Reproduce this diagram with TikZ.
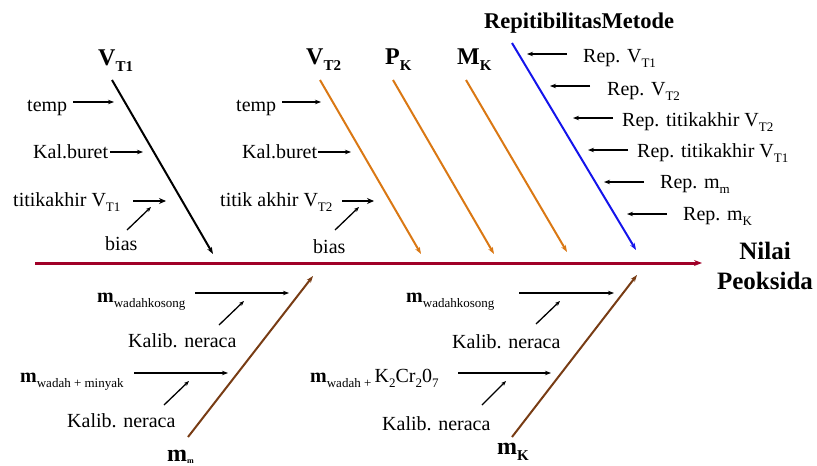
\documentclass[tikz,border=0pt]{standalone}
\usepackage{fontspec}
\setmainfont{Liberation Serif}
\usetikzlibrary{arrows.meta}
\definecolor{spinered}{RGB}{160,0,40}
\definecolor{branchorange}{RGB}{218,120,20}
\definecolor{branchbrown}{RGB}{120,60,20}
\definecolor{branchblue}{RGB}{20,20,235}
\newcommand\lsub[1]{\raisebox{-0.28em}{\fontsize{13}{13}\selectfont #1}}
\newcommand\hsub[1]{\raisebox{-0.25em}{\fontsize{15}{15}\selectfont #1}}
\newcommand\tinysub[1]{\raisebox{-0.1em}{\fontsize{8}{8}\selectfont #1}}
\begin{document}
\begin{tikzpicture}[x=1pt,y=-1pt,
  lbl/.style={anchor=base west, inner sep=0pt, font=\fontsize{20}{22}\selectfont},
  head/.style={anchor=base west, inner sep=0pt, font=\bfseries\fontsize{24}{26}\selectfont},
  bigtip/.style={-{Stealth[length=7pt,width=5pt]}},
  branch/.style={bigtip, line width=2pt},
  cause/.style={-{Stealth[length=6pt,width=4.5pt]}, line width=1.4pt},
  causethick/.style={-{Stealth[length=7pt,width=6pt]}, line width=2.8pt},
  bias/.style={-{Stealth[length=5pt,width=4pt]}, line width=1.3pt}]
\useasboundingbox (0,0) rectangle (817,466);

% ---------- spine ----------
\coordinate (s0) at (35,263);
\coordinate (s1) at (702,263);
\draw[-{Stealth[length=8pt,width=6pt]}, line width=3pt, spinered] (s0) -- (s1);
\node[inner sep=0pt, align=center, font=\bfseries\fontsize{25}{30}\selectfont, anchor=north] (eff) at (765,242) {Nilai\\Peoksida};

% ---------- upper branches ----------
\coordinate (a0) at (112,80);  \coordinate (a1) at (213,254);
\coordinate (b0) at (320,80);  \coordinate (b1) at (421,254);
\coordinate (c0) at (393,80);  \coordinate (c1) at (494,254);
\coordinate (d0) at (466,80);  \coordinate (d1) at (567,252);
\coordinate (e0) at (512,43);  \coordinate (e1) at (636,250);
\draw[branch, black] (a0) -- (a1);
\draw[branch, branchorange] (b0) -- (b1);
\draw[branch, branchorange] (c0) -- (c1);
\draw[branch, branchorange] (d0) -- (d1);
\draw[branch, branchblue] (e0) -- (e1);

\node[head] (hVT1) at (98,65) {V\hsub{T1}};
\node[head] (hVT2) at (306,64) {V\hsub{T2}};
\node[head] (hPK) at (385,64) {P\hsub{K}};
\node[head] (hMK) at (457,64) {M\hsub{K}};
\node[anchor=base west, inner sep=0pt, font=\bfseries\fontsize{22.5}{24}\selectfont] (hRep) at (484,28) {RepitibilitasMetode};

% V_T1 causes
\node[lbl] (t1) at (27,111) {temp};
\coordinate (t1a) at (73,102); \coordinate (t1b) at (114,102);
\draw[cause] (t1a) -- (t1b);
\node[lbl] (k1) at (33,158) {Kal.buret};
\coordinate (k1a) at (110,152); \coordinate (k1b) at (143,152);
\draw[cause] (k1a) -- (k1b);
\node[lbl] (ti1) at (13,206) {titikakhir V\lsub{T1}};
\coordinate (ti1a) at (133,201); \coordinate (ti1b) at (166,201);
\draw[causethick] (ti1a) -- (ti1b);
\node[lbl] (bi1) at (105,250) {bias};
\coordinate (bi1a) at (127,230); \coordinate (bi1b) at (151,207);
\draw[bias] (bi1a) -- (bi1b);

% V_T2 causes
\node[lbl] (t2) at (236,111) {temp};
\coordinate (t2a) at (282,102); \coordinate (t2b) at (321,102);
\draw[cause] (t2a) -- (t2b);
\node[lbl] (k2) at (242,158) {Kal.buret};
\coordinate (k2a) at (318,152); \coordinate (k2b) at (351,152);
\draw[cause] (k2a) -- (k2b);
\node[lbl] (ti2) at (220,206) {titik akhir V\lsub{T2}};
\coordinate (ti2a) at (342,201); \coordinate (ti2b) at (374,201);
\draw[causethick] (ti2a) -- (ti2b);
\node[lbl] (bi2) at (313,253) {bias};
\coordinate (bi2a) at (335,230); \coordinate (bi2b) at (359,207);
\draw[bias] (bi2a) -- (bi2b);

% Repeatability causes
\node[lbl] (r1) at (583,62) {Rep. V\lsub{T1}};
\coordinate (r1a) at (567,54); \coordinate (r1b) at (527,54);
\draw[cause] (r1a) -- (r1b);
\node[lbl] (r2) at (607,95) {Rep. V\lsub{T2}};
\coordinate (r2a) at (590,86); \coordinate (r2b) at (550,86);
\draw[cause] (r2a) -- (r2b);
\node[lbl] (r3) at (622,126) {Rep. titikakhir V\lsub{T2}};
\coordinate (r3a) at (613,118); \coordinate (r3b) at (573,118);
\draw[cause] (r3a) -- (r3b);
\node[lbl] (r4) at (637,157) {Rep. titikakhir V\lsub{T1}};
\coordinate (r4a) at (628,150); \coordinate (r4b) at (588,150);
\draw[cause] (r4a) -- (r4b);
\node[lbl] (r5) at (660,188) {Rep. m\lsub{m}};
\coordinate (r5a) at (644,182); \coordinate (r5b) at (604,182);
\draw[cause] (r5a) -- (r5b);
\node[lbl] (r6) at (683,220) {Rep. m\lsub{K}};
\coordinate (r6a) at (667,214); \coordinate (r6b) at (627,214);
\draw[cause] (r6a) -- (r6b);

% ---------- lower branches ----------
\coordinate (f0) at (188,437); \coordinate (f1) at (313,276);
\coordinate (g0) at (512,437); \coordinate (g1) at (637,275);
\draw[branch, branchbrown] (f0) -- (f1);
\draw[branch, branchbrown] (g0) -- (g1);
\node[head] (hmm) at (167,461) {m\tinysub{m}};
\node[head] (hmK) at (497,454) {m\hsub{K}};

% m_m causes
\node[lbl] (w1) at (97,302) {\textbf{m}\lsub{wadahkosong}};
\coordinate (w1a) at (195,293); \coordinate (w1b) at (289,293);
\draw[cause] (w1a) -- (w1b);
\node[lbl] (n1) at (128,347) {Kalib. neraca};
\coordinate (n1a) at (219,325); \coordinate (n1b) at (244,301);
\draw[bias] (n1a) -- (n1b);
\node[lbl] (w2) at (20,382) {\textbf{m}\lsub{wadah + minyak}};
\coordinate (w2a) at (134,373); \coordinate (w2b) at (228,373);
\draw[cause] (w2a) -- (w2b);
\node[lbl] (n2) at (67,427) {Kalib. neraca};
\coordinate (n2a) at (164,405); \coordinate (n2b) at (189,381);
\draw[bias] (n2a) -- (n2b);

% m_K causes
\node[lbl] (w3) at (406,302) {\textbf{m}\lsub{wadahkosong}};
\coordinate (w3a) at (519,293); \coordinate (w3b) at (614,293);
\draw[cause] (w3a) -- (w3b);
\node[lbl] (n3) at (452,348) {Kalib. neraca};
\coordinate (n3a) at (536,324); \coordinate (n3b) at (560,301);
\draw[bias] (n3a) -- (n3b);
\node[lbl] (w4) at (310,382) {\textbf{m}\lsub{wadah + }K\lsub{2}Cr\lsub{2}0\lsub{7}};
\coordinate (w4a) at (458,373); \coordinate (w4b) at (551,373);
\draw[cause] (w4a) -- (w4b);
\node[lbl] (n4) at (382,430) {Kalib. neraca};
\coordinate (n4a) at (482,405); \coordinate (n4b) at (506,381);
\draw[bias] (n4a) -- (n4b);
\end{tikzpicture}
\end{document}
